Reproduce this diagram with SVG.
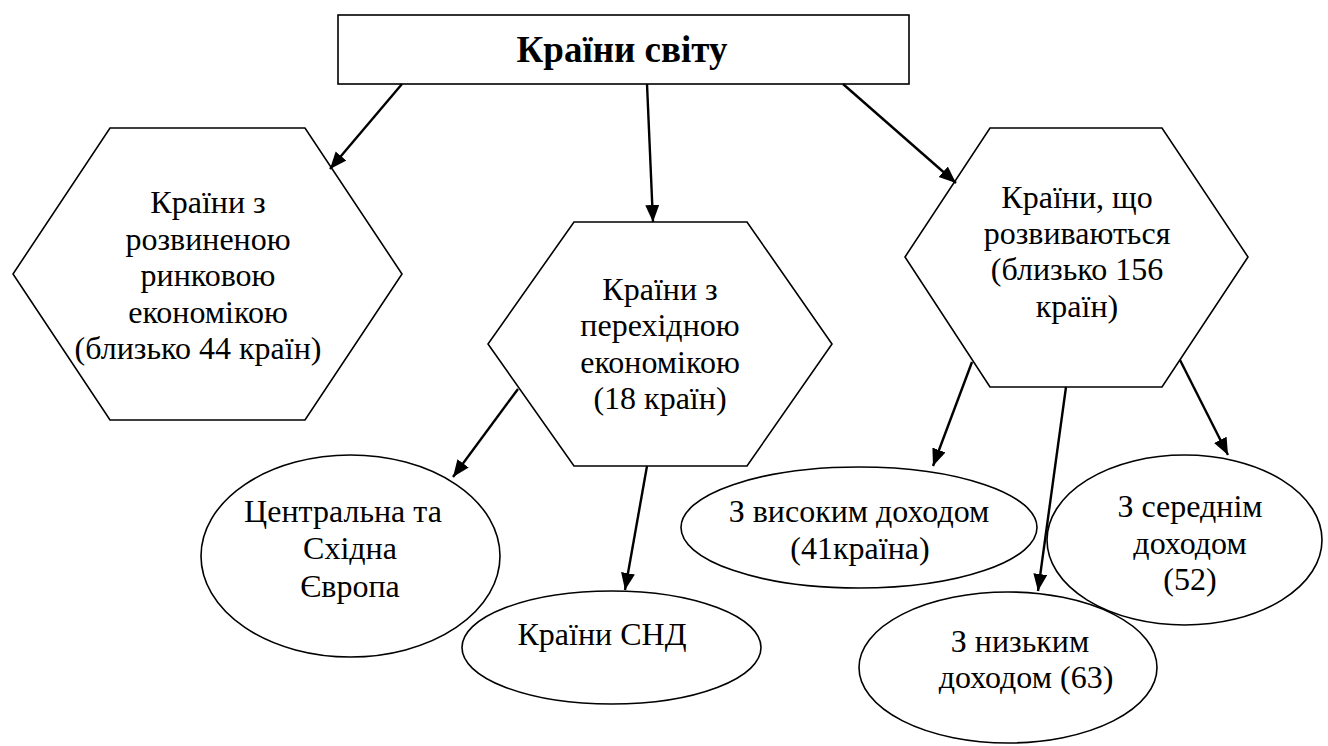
<svg xmlns="http://www.w3.org/2000/svg" width="1328" height="746" viewBox="0 0 1328 746">
<style>
.shape{fill:#fff;stroke:#000;stroke-width:1.6}
.ell{fill:none;stroke:#000;stroke-width:1.6}
.t{font-family:'Liberation Serif','DejaVu Serif',serif;font-size:32px;font-weight:normal;font-style:normal;fill:#000;text-anchor:middle}
.title{font-family:'Liberation Serif','DejaVu Serif',serif;font-size:37px;font-weight:bold;fill:#000;text-anchor:middle}
.c{stroke:#000;stroke-width:2.4;fill:none;marker-end:url(#arr)}
</style>
<defs>
<marker id="arr" markerUnits="userSpaceOnUse" markerWidth="18" markerHeight="16" refX="17" refY="7" orient="auto">
<path d="M0,0 L17,7 L0,14 z" fill="#000"/>
</marker>
</defs>
<rect width="1328" height="746" fill="#fff"/>
<g id="root">
<rect class="shape" x="338" y="15" width="571" height="69" stroke-width="2"/>
<text class="title" x="622" y="62">Країни світу</text>
</g>
<g id="developed">
<polygon class="shape" points="110,128 305,128 402,274 305,420 110,420 13,274"/>
<text class="t" x="208" y="213">Країни з</text>
<text class="t" x="208" y="249.5">розвиненою</text>
<text class="t" x="208" y="286">ринковою</text>
<text class="t" x="208" y="322.5">економікою</text>
<text class="t" x="198" y="359">(близько 44 країн)</text>
</g>
<g id="transition">
<polygon class="shape" points="574,222 747,222 832,344 747,466 574,466 488,344"/>
<text class="t" x="660" y="299.5">Країни з</text>
<text class="t" x="660" y="336">перехідною</text>
<text class="t" x="660" y="372.5">економікою</text>
<text class="t" x="660" y="409">(18 країн)</text>
</g>
<g id="developing">
<polygon class="shape" points="990,128 1162,128 1248,257 1162,387 990,387 905,257"/>
<text class="t" x="1077" y="208">Країни, що</text>
<text class="t" x="1077" y="244">розвиваються</text>
<text class="t" x="1077" y="280">(близько 156</text>
<text class="t" x="1077" y="317">країн)</text>
</g>
<g id="central-europe">
<ellipse class="ell" cx="350.5" cy="556" rx="149.5" ry="101"/>
<text class="t" x="343" y="522">Центральна та</text>
<text class="t" x="350" y="559">Східна</text>
<text class="t" x="350" y="597">Європа</text>
</g>
<g id="cis">
<ellipse class="ell" cx="611.5" cy="647.5" rx="149.5" ry="56.5"/>
<text class="t" x="602" y="645">Країни СНД</text>
</g>
<g id="high-income">
<ellipse class="ell" cx="859" cy="527.5" rx="178" ry="60.5"/>
<text class="t" x="859" y="522">З високим доходом</text>
<text class="t" x="860" y="559">(41країна)</text>
</g>
<g id="middle-income">
<ellipse class="ell" cx="1184.5" cy="540" rx="137.5" ry="85"/>
<text class="t" x="1190" y="517">З середнім</text>
<text class="t" x="1190" y="553.5">доходом</text>
<text class="t" x="1190" y="590">(52)</text>
</g>
<g id="low-income">
<ellipse class="ell" cx="1008" cy="667.5" rx="149" ry="75.5"/>
<text class="t" x="1020" y="652">З низьким</text>
<text class="t" x="1026" y="688">доходом (63)</text>
</g>
<g id="connectors">
<line class="c" x1="402" y1="84" x2="330" y2="169"/>
<line class="c" x1="647" y1="84" x2="653" y2="222"/>
<line class="c" x1="843" y1="84" x2="956" y2="183"/>
<line class="c" x1="518" y1="389" x2="453" y2="477"/>
<line class="c" x1="647" y1="466" x2="625" y2="590"/>
<line class="c" x1="972" y1="362" x2="933" y2="466"/>
<line class="c" x1="1066" y1="387" x2="1038" y2="591"/>
<line class="c" x1="1180" y1="360" x2="1228" y2="455"/>
</g>
</svg>
